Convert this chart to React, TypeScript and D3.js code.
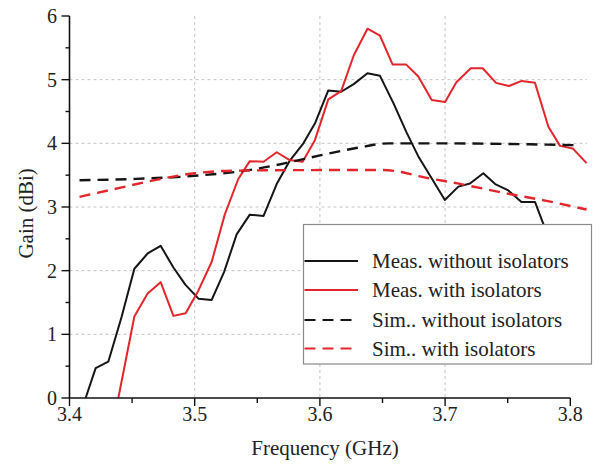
import React from "react";
import * as d3 from "d3";

const measNoFreq = [3.4129, 3.4209, 3.431, 3.4417, 3.4518, 3.4624, 3.4728, 3.483, 3.4925, 3.503, 3.5136, 3.5235, 3.5335, 3.544, 3.555, 3.5655, 3.576, 3.5868, 3.596, 3.6067, 3.617, 3.627, 3.638, 3.648, 3.659, 3.669, 3.679, 3.689, 3.6998, 3.7106, 3.7199, 3.7305, 3.74, 3.7505, 3.761, 3.7718, 3.782, 3.792];
const measNoGain = [0.0, 0.47, 0.57, 1.28, 2.03, 2.27, 2.39, 2.05, 1.78, 1.56, 1.54, 1.98, 2.57, 2.88, 2.86, 3.36, 3.73, 4.0, 4.31, 4.83, 4.81, 4.93, 5.1, 5.06, 4.62, 4.18, 3.78, 3.46, 3.11, 3.32, 3.37, 3.53, 3.36, 3.26, 3.08, 3.08, 2.55, 2.0];

const measWithFreq = [3.439, 3.4518, 3.4624, 3.4728, 3.483, 3.4928, 3.503, 3.5136, 3.524, 3.5348, 3.544, 3.555, 3.5655, 3.5756, 3.5862, 3.596, 3.6067, 3.617, 3.627, 3.638, 3.648, 3.658, 3.6688, 3.6786, 3.6893, 3.7, 3.709, 3.7205, 3.73, 3.7407, 3.751, 3.7612, 3.7718, 3.7825, 3.7918, 3.8019, 3.813];
const measWithGain = [0.0, 1.28, 1.64, 1.82, 1.29, 1.33, 1.69, 2.14, 2.88, 3.44, 3.72, 3.71, 3.86, 3.74, 3.71, 4.05, 4.69, 4.82, 5.38, 5.8, 5.69, 5.24, 5.24, 5.05, 4.68, 4.65, 4.96, 5.18, 5.18, 4.95, 4.9, 4.98, 4.95, 4.26, 3.96, 3.92, 3.69];

const simNoFreq = [3.408, 3.45, 3.5, 3.55, 3.575, 3.6, 3.63, 3.655, 3.7, 3.75, 3.806];
const simNoGain = [3.42, 3.44, 3.49, 3.6, 3.7, 3.81, 3.93, 4.0, 4.0, 3.99, 3.97];

const simWithFreq = [3.408, 3.44, 3.47, 3.5, 3.53, 3.6, 3.65, 3.665, 3.68, 3.71, 3.75, 3.78, 3.813];
const simWithGain = [3.16, 3.3, 3.43, 3.53, 3.57, 3.58, 3.58, 3.55, 3.48, 3.37, 3.21, 3.1, 2.96];

const xTicks = [3.4, 3.5, 3.6, 3.7, 3.8];
const yTicks = [0, 1, 2, 3, 4, 5, 6];
const legendLabels = ["Meas. without isolators", "Meas. with isolators", "Sim.. without isolators", "Sim.. with isolators"];

const RED = "#e3262c";
const BLACK = "#151515";
const FONT = "'Liberation Serif', 'DejaVu Serif', serif";

export default function App() {
  const x = d3.scaleLinear().domain([3.4, 3.8]).range([69.5, 570.3]);
  const y = d3.scaleLinear().domain([0, 6]).range([398, 16]);
  const gridRight = 587;

  const zip = (f: number[], g: number[]) => f.map((v, i) => [v, g[i]] as [number, number]);
  const lineStraight = d3.line<[number, number]>().x(d => x(d[0])).y(d => y(d[1]));
  const lineSmooth = d3.line<[number, number]>().x(d => x(d[0])).y(d => y(d[1])).curve(d3.curveMonotoneX);

  const series = [
    { d: lineStraight(zip(measNoFreq, measNoGain)), color: BLACK, dash: undefined as string | undefined, w: 2 },
    { d: lineStraight(zip(measWithFreq, measWithGain)), color: RED, dash: undefined, w: 2 },
    { d: lineSmooth(zip(simNoFreq, simNoGain)), color: BLACK, dash: "11,7", w: 2.4 },
    { d: lineSmooth(zip(simWithFreq, simWithGain)), color: RED, dash: "11,7", w: 2.4 },
  ];

  const xMinor = d3.range(3.4, 3.8001, 0.05);
  const yMinor = d3.range(0, 6.001, 0.5);

  const legX = 303.5, legY = 224.5, legW = 288, legH = 139.5;
  const legRows = [261, 290, 320, 348.5];

  return (
    <svg width={599} height={466} style={{ position: "absolute", left: 0, top: 0, background: "#fff" }} fontFamily={FONT}>
      <rect x={0} y={0} width={599} height={466} fill="#fff" />
      {/* grid */}
      {[1, 2, 3, 4, 5].map(v => (
        <line key={"gy" + v} x1={x(3.4)} x2={gridRight} y1={y(v)} y2={y(v)} stroke="#c4c4c4" strokeWidth={1} strokeDasharray="3,3" />
      ))}
      {[3.5, 3.6, 3.7].map(v => (
        <line key={"gx" + v} x1={x(v)} x2={x(v)} y1={y(6)} y2={y(0)} stroke="#c4c4c4" strokeWidth={1} strokeDasharray="3,3" />
      ))}
      {/* series */}
      {series.map((s, i) => (
        <path key={i} d={s.d || ""} fill="none" stroke={s.color} strokeWidth={s.w} strokeDasharray={s.dash} strokeLinejoin="round" />
      ))}
      {/* axes */}
      <line x1={x(3.4)} x2={x(3.4)} y1={y(6)} y2={y(0)} stroke="#111" strokeWidth={1.6} />
      <line x1={x(3.4)} x2={x(3.8)} y1={y(0)} y2={y(0)} stroke="#111" strokeWidth={1.6} />
      {yMinor.map(v => (
        <line key={"yt" + v} x1={x(3.4) - (Math.abs(v - Math.round(v)) < 1e-6 ? 8 : 4)} x2={x(3.4)} y1={y(v)} y2={y(v)} stroke="#111" strokeWidth={1.4} />
      ))}
      {xMinor.map(v => (
        <line key={"xt" + v} x1={x(v)} x2={x(v)} y1={y(0)} y2={y(0) + (Math.abs(v * 10 - Math.round(v * 10)) < 1e-6 ? 8 : 5)} stroke="#111" strokeWidth={1.4} />
      ))}
      {yTicks.map(v => (
        <text key={"yl" + v} x={57} y={y(v)} dy="0.35em" textAnchor="end" fontSize={20} fill="#222">{v}</text>
      ))}
      {xTicks.map(v => (
        <text key={"xl" + v} x={x(v)} y={421} textAnchor="middle" fontSize={20} fill="#222">{v.toFixed(1)}</text>
      ))}
      <text x={325} y={455} textAnchor="middle" fontSize={21} fill="#222">Frequency (GHz)</text>
      <text transform={`translate(33,${y(2.9)}) rotate(-90)`} textAnchor="middle" fontSize={21} fill="#222">Gain (dBi)</text>
      {/* legend */}
      <rect x={legX} y={legY} width={legW} height={legH} fill="#fff" stroke="#8a8a8a" strokeWidth={1.2} />
      {legendLabels.map((lab, i) => (
        <g key={lab}>
          <line x1={legX + 1} x2={358} y1={legRows[i]} y2={legRows[i]} stroke={i % 2 === 0 ? BLACK : RED} strokeWidth={2.2}
            strokeDasharray={i >= 2 ? "11,7" : undefined} />
          <text x={372} y={legRows[i]} dy="0.35em" fontSize={21} fill="#222">{lab}</text>
        </g>
      ))}
    </svg>
  );
}
